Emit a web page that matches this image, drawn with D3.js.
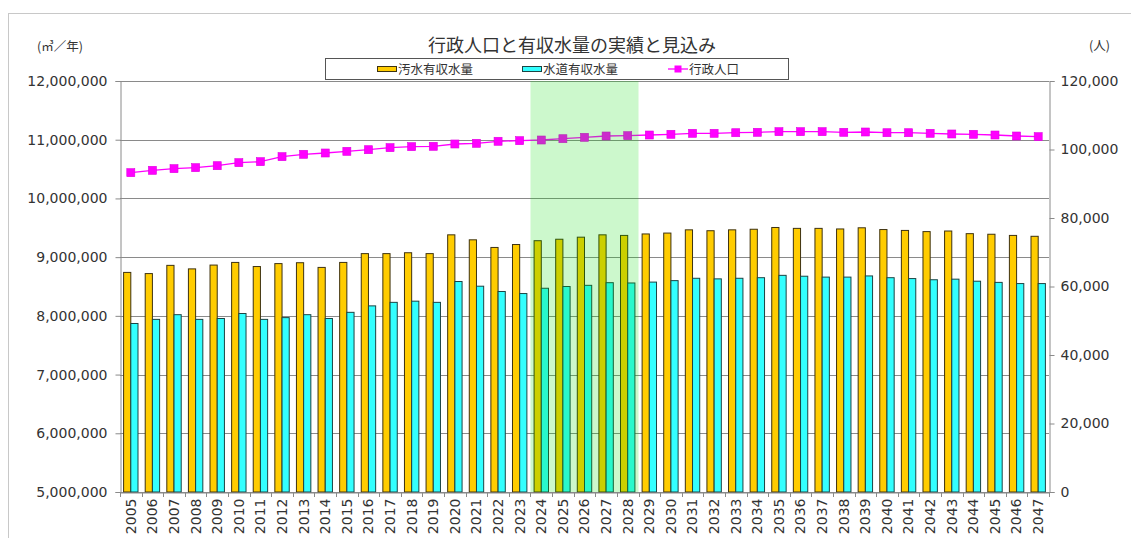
<!DOCTYPE html>
<html lang="ja">
<head>
<meta charset="utf-8">
<script src="https://cdn.jsdelivr.net/npm/d3@7"></script>
<style>
  html, body { margin: 0; padding: 0; background: #fff; }
  svg { display: block; }
  text { font-family: "DejaVu Sans", "Noto Sans CJK JP", sans-serif; fill: #333; }
  .jp { font-family: "Noto Sans CJK JP", sans-serif; }
</style>
</head>
<body>
<svg id="chart" width="1131" height="538"></svg>
<script>
// 年度
const years = ["2005","2006","2007","2008","2009","2010","2011","2012","2013","2014",
  "2015","2016","2017","2018","2019","2020","2021","2022","2023","2024","2025","2026",
  "2027","2028","2029","2030","2031","2032","2033","2034","2035","2036","2037","2038",
  "2039","2040","2041","2042","2043","2044","2045","2046","2047"];

// 汚水有収水量 (㎥/年)
const sewerVolume = [8740000,8720000,8860000,8800000,8865000,8910000,8840000,8890000,8905000,8825000,
  8910000,9060000,9060000,9075000,9060000,9380000,9295000,9165000,9215000,9280000,9305000,9340000,
  9380000,9370000,9395000,9410000,9465000,9450000,9465000,9475000,9505000,9490000,9490000,9480000,
  9500000,9470000,9455000,9435000,9445000,9400000,9390000,9370000,9355000];

// 水道有収水量 (㎥/年)
const waterVolume = [7870000,7940000,8020000,7940000,7955000,8040000,7940000,7970000,8020000,7955000,
  8060000,8170000,8230000,8250000,8230000,8585000,8505000,8415000,8380000,8470000,8500000,8520000,
  8565000,8560000,8575000,8600000,8640000,8630000,8640000,8650000,8690000,8675000,8660000,8660000,
  8680000,8650000,8635000,8615000,8625000,8590000,8570000,8550000,8550000];

// 行政人口 (人)
const population = [93230,93920,94400,94690,95270,96150,96440,97900,98600,98980,
  99470,99940,100530,100820,100930,101610,101810,102400,102570,102770,103150,103560,
  103940,104030,104230,104440,104730,104730,104900,105020,105200,105200,105200,105020,
  105110,104900,104900,104730,104530,104440,104230,103940,103740];

// 強調表示する年度の範囲
const highlightYears = ["2024","2028"];

const leftTicks = [5000000,6000000,7000000,8000000,9000000,10000000,11000000,12000000];
const rightTicks = [0,20000,40000,60000,80000,100000,120000];

const seriesNames = ["汚水有収水量","水道有収水量","行政人口"];
const titleText = "行政人口と有収水量の実績と見込み";

const colors = { sewer: "#ffcc00", water: "#33ffff", pop: "#ff00ff" };

const svg = d3.select("#chart");
const plot = { left: 120, right: 1049, top: 81, bottom: 492 };

// 外枠
svg.append("rect")
  .attr("x", 8.5).attr("y", 13.5).attr("width", 1140).attr("height", 540)
  .attr("fill", "none").attr("stroke", "#c8c8c8");

const x = d3.scaleBand().domain(years).range([plot.left, plot.right]).paddingInner(0).paddingOuter(0);
const xSub = d3.scaleBand().domain(["sewer","water"]).range([0, x.bandwidth()]).paddingInner(0).paddingOuter(0.5);
const yL = d3.scaleLinear().domain([5000000, 12000000]).range([plot.bottom, plot.top]);
const yR = d3.scaleLinear().domain([0, 120000]).range([plot.bottom, plot.top]);

// 目盛線
svg.append("g").selectAll("line").data(leftTicks).join("line")
  .attr("x1", plot.left).attr("x2", plot.right)
  .attr("y1", d => Math.round(yL(d)) + 0.5).attr("y2", d => Math.round(yL(d)) + 0.5)
  .attr("stroke", "#8a8a8a").attr("stroke-width", 1);

// 棒グラフ
const g = svg.append("g");
g.selectAll("rect.sewer").data(years).join("rect")
  .attr("class", "sewer")
  .attr("x", (d) => x(d) + xSub("sewer"))
  .attr("width", xSub.bandwidth())
  .attr("y", (d, i) => yL(sewerVolume[i]))
  .attr("height", (d, i) => plot.bottom - yL(sewerVolume[i]))
  .attr("fill", colors.sewer).attr("stroke", "#3e3210").attr("stroke-width", 1);

g.selectAll("rect.water").data(years).join("rect")
  .attr("class", "water")
  .attr("x", (d) => x(d) + xSub("water"))
  .attr("width", xSub.bandwidth())
  .attr("y", (d, i) => yL(waterVolume[i]))
  .attr("height", (d, i) => plot.bottom - yL(waterVolume[i]))
  .attr("fill", colors.water).attr("stroke", "#1c4444").attr("stroke-width", 1);

// 行政人口の折れ線
const line = d3.line().x((d, i) => x(years[i]) + x.bandwidth() / 2).y(d => yR(d));
svg.append("path").datum(population)
  .attr("d", line).attr("fill", "none")
  .attr("stroke", colors.pop).attr("stroke-width", 1.3);

svg.append("g").selectAll("rect").data(population).join("rect")
  .attr("x", (d, i) => x(years[i]) + x.bandwidth() / 2 - 4)
  .attr("y", d => yR(d) - 4)
  .attr("width", 8).attr("height", 8)
  .attr("fill", colors.pop).attr("stroke", "#e000e0").attr("stroke-width", 0.6);

// 強調表示の帯
svg.append("rect")
  .attr("x", x(highlightYears[0]))
  .attr("y", plot.top)
  .attr("width", x(highlightYears[1]) + x.bandwidth() - x(highlightYears[0]))
  .attr("height", plot.bottom - plot.top)
  .attr("fill", "rgb(0,220,0)").attr("fill-opacity", 0.2);

// 軸
const axisL = d3.axisLeft(yL).tickValues(leftTicks).tickSize(5).tickPadding(8)
  .tickFormat(d3.format(",d"));
const gl = svg.append("g").attr("transform", `translate(${plot.left + 0.5},0)`).call(axisL);

const axisR = d3.axisRight(yR).tickValues(rightTicks).tickSize(5).tickPadding(6)
  .tickFormat(d3.format(",d"));
const gr = svg.append("g").attr("transform", `translate(${plot.right + 0.5},0)`).call(axisR);

const axisB = d3.axisBottom(x).tickSize(0).tickPadding(0);
const gb = svg.append("g").attr("transform", `translate(0,${plot.bottom + 0.5})`).call(axisB);

// 区切り目盛
svg.append("g").selectAll("line").data(years.concat([null])).join("line")
  .attr("x1", (d, i) => Math.round(plot.left + i * x.step()) + 0.5)
  .attr("x2", (d, i) => Math.round(plot.left + i * x.step()) + 0.5)
  .attr("y1", plot.bottom).attr("y2", plot.bottom + 5)
  .attr("stroke", "#8a8a8a");

[gl, gr, gb].forEach(a => {
  a.select(".domain").attr("stroke", "#8a8a8a");
  a.selectAll(".tick line").attr("stroke", "#8a8a8a");
  a.selectAll("text").attr("font-size", 14).attr("fill", "#4a4a4a")
    .attr("font-family", "DejaVu Sans, sans-serif");
});
gb.selectAll(".tick text")
  .attr("transform", "translate(0,6) rotate(-90)")
  .attr("text-anchor", "end").attr("dx", 0).attr("dy", "0.35em").attr("x", 0).attr("y", 0);

// 表題
svg.append("text").attr("class", "jp")
  .attr("x", 572).attr("y", 52).attr("text-anchor", "middle")
  .attr("font-size", 18).attr("fill", "#2a2a2a").text(titleText);

// 単位
svg.append("text").attr("class", "jp").attr("x", 37).attr("y", 51)
  .attr("font-size", 12.5).attr("fill", "#444").text("(㎥／年)");
svg.append("text").attr("class", "jp").attr("x", 1089).attr("y", 50)
  .attr("font-size", 12.5).attr("fill", "#444").text("(人)");

// 凡例
const lg = svg.append("g");
lg.append("rect").attr("x", 325.5).attr("y", 58.5).attr("width", 463).attr("height", 21)
  .attr("fill", "#fff").attr("stroke", "#555");
const legendItems = [
  { key: "sewer", x: 377, name: seriesNames[0] },
  { key: "water", x: 522, name: seriesNames[1] },
  { key: "pop", x: 668, name: seriesNames[2] }
];
legendItems.forEach(it => {
  if (it.key === "pop") {
    lg.append("line").attr("x1", it.x).attr("x2", it.x + 20).attr("y1", 69).attr("y2", 69)
      .attr("stroke", colors.pop).attr("stroke-width", 1.3);
    lg.append("rect").attr("x", it.x + 6.5).attr("y", 65.5).attr("width", 7).attr("height", 7)
      .attr("fill", colors.pop);
  } else {
    lg.append("rect").attr("x", it.x + 0.5).attr("y", 66.5).attr("width", 19).attr("height", 5)
      .attr("fill", colors[it.key]).attr("stroke", it.key === "sewer" ? "#3e3210" : "#1c4444");
  }
  lg.append("text").attr("class", "jp").attr("x", it.x + 21).attr("y", 73.5)
    .attr("font-size", 12.5).attr("fill", "#444").text(it.name);
});
</script>
</body>
</html>
